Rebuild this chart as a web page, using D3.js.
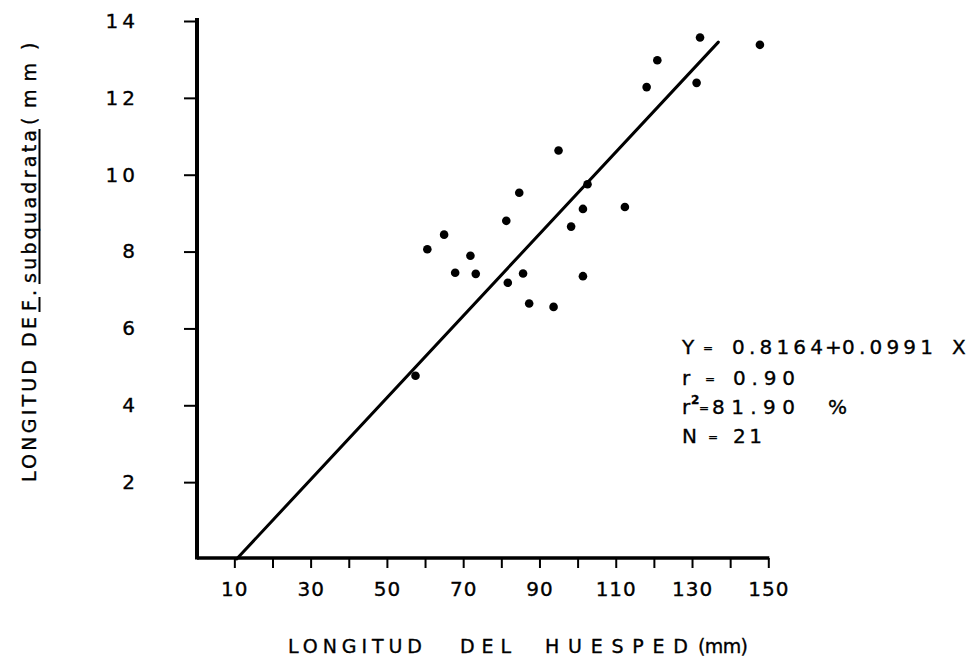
<!DOCTYPE html>
<html>
<head>
<meta charset="utf-8">
<script src="https://cdn.jsdelivr.net/npm/d3@7"></script>
<style>
  html, body { margin: 0; padding: 0; background: #fff; }
  svg { display: block; }
  text { font-family: "DejaVu Sans", sans-serif; fill: #000; stroke: #000; stroke-width: 0.35px; }
</style>
</head>
<body>
<svg id="chart" width="975" height="656"></svg>
<script>
// ---- data ----
const hostLength = [60.6, 65.0, 71.9, 67.9, 73.3, 57.5, 132.1, 147.8, 120.9, 118.1, 131.2, 95.0,
                    84.7, 102.6, 81.3, 101.4, 112.4, 98.3, 81.7, 85.7, 101.4, 87.3, 93.7];
const parasiteLength = [8.06, 8.44, 7.89, 7.45, 7.42, 4.77, 13.57, 13.38, 12.98, 12.28, 12.39, 10.63,
                        9.53, 9.75, 8.80, 9.11, 9.16, 8.65, 7.19, 7.43, 7.36, 6.65, 6.56];
const fitLineX = [10.6, 136.9];
const fitLineY = [0, 13.45];
const xTicks = [10, 20, 30, 40, 50, 60, 70, 80, 90, 100, 110, 120, 130, 140, 150];
const xTickLabels = [10, 30, 50, 70, 90, 110, 130, 150];
const yTicks = [2, 4, 6, 8, 10, 12, 14];
const xTitle = ["LONGITUD", "DEL", "HUESPED", "(mm)"];
const yTitle = ["LONGITUD", "DE", "F", ".", "subquadrata", "(", "mm", ")"];
const statY = ["Y", "=", "0.8164", "+", "0.0991", "X"];
const statR = ["r", "=", "0.90"];
const statR2 = ["r", "2", "=", "81.90", "%"];
const statN = ["N", "=", "21"];

const svg = d3.select("#chart");
const x = d3.scaleLinear().domain([0, 150]).range([196.2, 768.3]);
const y = d3.scaleLinear().domain([0, 14]).range([559, 21]);

const axisX0 = 197;   // y-axis position
const axisY0 = 558;   // x-axis position

// x axis
const gx = svg.append("g").attr("transform", `translate(0,${axisY0})`)
  .call(d3.axisBottom(x).tickValues(xTicks).tickSize(10).tickPadding(14)
        .tickFormat(d => xTickLabels.includes(d) ? String(d) : ""));
gx.select(".domain").remove();
gx.selectAll(".tick line").attr("stroke", "#000").attr("stroke-width", 2);
gx.selectAll(".tick text").attr("font-size", 20).attr("letter-spacing", 1).attr("fill", "#000");
svg.append("line").attr("x1", axisX0).attr("x2", x(150) + 1)
  .attr("y1", axisY0).attr("y2", axisY0).attr("stroke", "#000").attr("stroke-width", 3.5);

// y axis
const gy = svg.append("g").attr("transform", `translate(${axisX0},0)`)
  .call(d3.axisLeft(y).tickValues(yTicks).tickSize(13).tickPadding(46).tickFormat(d => String(d)));
gy.select(".domain").remove();
gy.selectAll(".tick line").attr("stroke", "#000").attr("stroke-width", 2);
gy.selectAll(".tick text").attr("font-size", 20).attr("letter-spacing", 4).attr("fill", "#000")
  .attr("text-anchor", "end").attr("x", -58);
svg.append("line").attr("x1", axisX0).attr("x2", axisX0)
  .attr("y1", y(14) - 3).attr("y2", axisY0 + 1.5).attr("stroke", "#000").attr("stroke-width", 4);

// regression line
svg.append("line")
  .attr("x1", x(fitLineX[0])).attr("y1", y(fitLineY[0]))
  .attr("x2", x(fitLineX[1])).attr("y2", y(fitLineY[1]))
  .attr("stroke", "#000").attr("stroke-width", 3).attr("stroke-linecap", "round");

// points
svg.append("g").selectAll("circle")
  .data(hostLength.map((h, i) => [h, parasiteLength[i]]))
  .join("circle")
  .attr("cx", d => x(d[0])).attr("cy", d => y(d[1])).attr("r", 4.3).attr("fill", "#000");

// text helper: places a word between x0 and x1 on baseline yb
function seg(parent, str, x0, x1, yb, size) {
  const t = parent.append("text").attr("x", x0).attr("y", yb).attr("font-size", size).text(str);
  if (str.length > 1) t.attr("textLength", x1 - x0).attr("lengthAdjust", "spacing");
  return t;
}
// "=" signs in the lettering are small
function eq(parent, x0, yb) {
  return parent.append("text").attr("x", x0).attr("y", yb - 2).attr("font-size", 12).text("=");
}

// statistics annotation
const ann = svg.append("g");
seg(ann, statY[0], 682, 695, 354, 20);
eq(ann, 703, 354);
seg(ann, statY[2], 732, 823, 354, 20);
seg(ann, statY[3], 825, 840, 354, 20);
seg(ann, statY[4], 842, 933, 354, 20);
seg(ann, statY[5], 952, 970, 354, 20);

seg(ann, statR[0], 682, 690, 385, 20);
eq(ann, 705, 385);
seg(ann, statR[2], 733, 795, 385, 20);

seg(ann, statR2[0], 682, 690, 414, 20);
seg(ann, statR2[1], 691, 698, 404, 12).attr("font-weight", "bold");
eq(ann, 699, 414);
seg(ann, statR2[3], 712, 795, 414, 20);
seg(ann, statR2[4], 828, 857, 414, 20);

seg(ann, statN[0], 682, 695, 443, 20);
eq(ann, 708, 443);
seg(ann, statN[2], 733, 762, 443, 20);

// x axis title
const xt = svg.append("g");
const xs = [[288, 422], [460, 511], [545, 688], [698, 748]];
xTitle.forEach((s, i) => seg(xt, s, xs[i][0], xs[i][1], 653, 19));

// y axis title (rotated; positions are along the vertical, from bottom to top)
const yg = svg.append("g").attr("transform", "translate(36,0) rotate(-90)");
const ys = [[482, 360], [347, 317], [311, 298], [296, 292], [283, 130], [125, 117], [108, 63], [50, 37]];
yTitle.forEach((s, i) => {
  seg(yg, s, -ys[i][0], -ys[i][1], 0, 19);
  if (s === "F" || s === "subquadrata") {
    yg.append("line").attr("x1", -ys[i][0] - 1).attr("x2", -ys[i][1] + 1)
      .attr("y1", 3.5).attr("y2", 3.5).attr("stroke", "#000").attr("stroke-width", 2);
  }
});
</script>
</body>
</html>
